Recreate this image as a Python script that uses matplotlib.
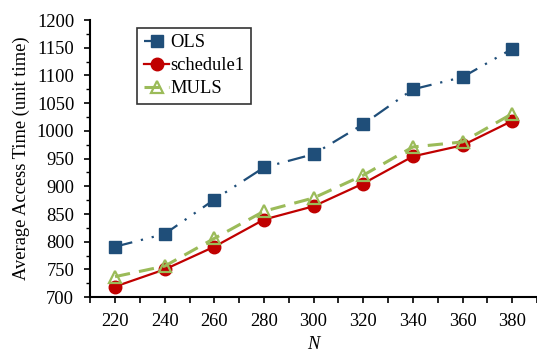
import matplotlib.pyplot as plt
from matplotlib.ticker import MultipleLocator

plt.rcParams['font.family'] = ['Liberation Serif', 'DejaVu Serif']

N = [220, 240, 260, 280, 300, 320, 340, 360, 380]
ols = [791, 814, 876, 934, 958, 1012, 1075, 1097, 1148]
schedule1 = [719, 750, 791, 840, 864, 905, 954, 974, 1018]
muls = [737, 756, 806, 855, 879, 920, 971, 980, 1031]

fig = plt.figure(figsize=(5.37, 3.58), dpi=100)
ax = fig.add_axes([0.168, 0.170, 0.832, 0.774])

ax.plot(N, ols, color='#1F4E79', lw=1.6, ls=(0, (8, 4, 1, 4, 1, 4)),
        marker='s', ms=8, label='OLS')
ax.plot(N, schedule1, color='#C00000', lw=1.6, ls='-',
        marker='o', ms=9, label='schedule1')
ax.plot(N, muls, color='#9BBB59', lw=2.2, ls=(0, (5, 3)),
        marker='^', ms=9, mfc='none', mew=1.6, label='MULS')

ax.set_xlim(210, 390)
ax.set_ylim(700, 1200)
ax.set_xticks(N)
ax.set_xticks([210 + 20 * k for k in range(10)], minor=True)
ax.yaxis.set_major_locator(MultipleLocator(50))
ax.yaxis.set_minor_locator(MultipleLocator(25))
ax.tick_params(axis='x', which='both', direction='out', length=4.5, width=1.2,
               labelsize=13.3, pad=7)
ax.tick_params(axis='y', which='major', direction='out', length=4.5, width=1.2,
               labelsize=13.3, pad=7)
ax.tick_params(axis='y', which='minor', direction='out', length=3, width=1.0)

for side in ['top', 'right']:
    ax.spines[side].set_visible(False)
for side in ['left', 'bottom']:
    ax.spines[side].set_linewidth(1.5)

ax.set_xlabel('N', fontstyle='italic', fontsize=13.3, labelpad=4)
ax.set_ylabel('Average Access Time (unit time)', fontsize=13.3, labelpad=5)

leg = ax.legend(loc='upper left', bbox_to_anchor=(0.105, 0.972), fontsize=13.3,
                frameon=True, fancybox=False, edgecolor='black',
                handlelength=1.4, handletextpad=0.05, borderpad=0.35,
                labelspacing=0.32, borderaxespad=0)
leg.get_frame().set_linewidth(1.2)

fig.savefig('out.png', dpi=100)
